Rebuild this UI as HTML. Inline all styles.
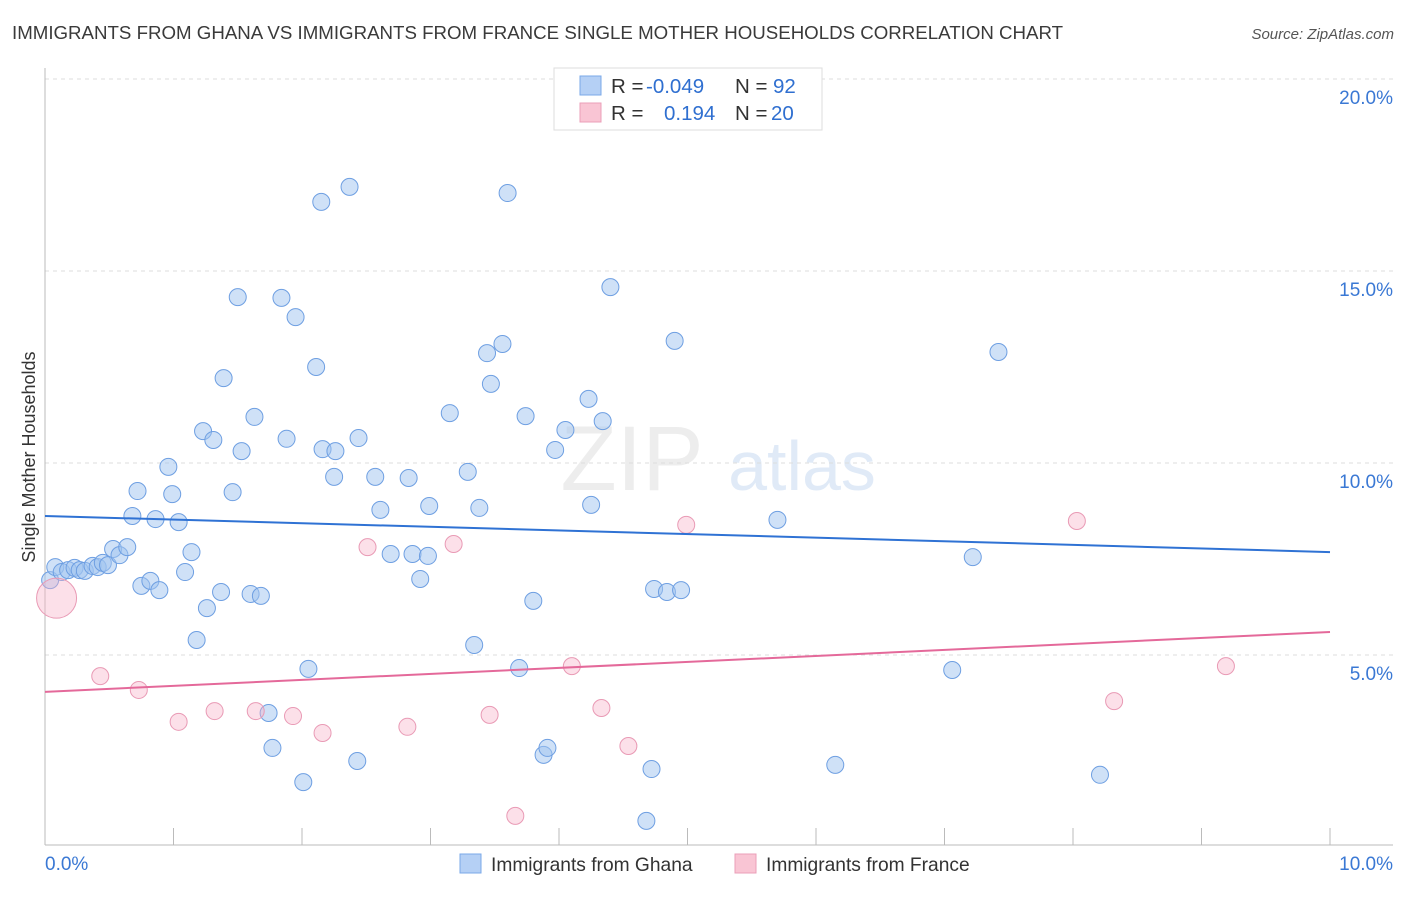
<!DOCTYPE html>
<html><head><meta charset="utf-8"><style>
body{margin:0;background:#fff;font-family:"Liberation Sans",sans-serif;}
svg text{font-family:"Liberation Sans",sans-serif;}
</style></head><body>
<svg id="chart" width="1406" height="892" xmlns="http://www.w3.org/2000/svg">
<text x="12" y="39" font-size="18.7" fill="#3a3a3a">IMMIGRANTS FROM GHANA VS IMMIGRANTS FROM FRANCE SINGLE MOTHER HOUSEHOLDS CORRELATION CHART</text>
<text x="1394" y="39" font-size="15" fill="#555" font-style="italic" text-anchor="end">Source: ZipAtlas.com</text>
<g opacity="0.35">
<text x="632" y="490" font-size="92" fill="#ccc" text-anchor="middle" font-family="Liberation Serif">ZIP</text>
<text x="802" y="490" font-size="70" fill="#a9c6ea" text-anchor="middle">atlas</text>
</g>
<g id="grid"></g>
<g id="axes"></g>
<g id="marks"></g>
<text transform="translate(35,457) rotate(-90)" font-size="18" fill="#333" text-anchor="middle">Single Mother Households</text>
<g>
<rect x="554" y="68" width="268" height="62" fill="#fff" stroke="#ddd"/>
<rect x="580" y="76" width="21" height="19" fill="#b5d0f5" stroke="#7aa8e8"/>
<rect x="580" y="103" width="21" height="19" fill="#f9c5d4" stroke="#eb9fb8"/>
<text x="611" y="93" font-size="20.5" fill="#333">R = <tspan x="646" fill="#2f6fd0">-0.049</tspan></text>
<text x="735" y="93" font-size="20.5" fill="#333">N = <tspan x="773" fill="#2f6fd0">92</tspan></text>
<text x="611" y="120" font-size="20.5" fill="#333">R = <tspan x="664" fill="#2f6fd0">0.194</tspan></text>
<text x="735" y="120" font-size="20.5" fill="#333">N = <tspan x="771" fill="#2f6fd0">20</tspan></text>
</g>
<g>
<rect x="460" y="854" width="21" height="19" fill="#b5d0f5" stroke="#7aa8e8"/>
<text x="491" y="871" font-size="19.2" fill="#333">Immigrants from Ghana</text>
<rect x="735" y="854" width="21" height="19" fill="#f9c5d4" stroke="#eb9fb8"/>
<text x="766" y="871" font-size="19.2" fill="#333">Immigrants from France</text>
</g>
</svg>
<script>
const yTicks=[5,10,15,20];
const yTickLabels=["5.0%","10.0%","15.0%","20.0%"];
const xTickValues=[0,1,2,3,4,5,6,7,8,9,10];
const xEndLabels=["0.0%","10.0%"];
const ghanaX=[0.04,0.08,0.13,0.18,0.23,0.27,0.31,0.37,0.41,0.45,0.49,0.53,0.58,0.64,0.72,0.68,0.75,0.82,0.89,0.86,0.96,0.99,1.04,1.09,1.14,1.18,1.23,1.26,1.31,1.37,1.39,1.46,1.50,1.53,1.60,1.63,1.68,1.74,1.77,1.84,1.88,1.95,2.01,2.05,2.11,2.15,2.16,2.25,2.26,2.37,2.43,2.44,2.57,2.61,2.69,2.83,2.86,2.92,2.98,2.99,3.15,3.29,3.34,3.38,3.44,3.47,3.56,3.60,3.69,3.74,3.80,3.88,3.91,3.97,4.05,4.23,4.25,4.34,4.40,4.68,4.72,4.74,4.84,4.90,4.95,5.70,6.15,7.06,7.22,7.42,8.21];
const ghanaY=[6.95,7.29,7.16,7.21,7.27,7.21,7.19,7.32,7.29,7.40,7.34,7.76,7.60,7.81,9.27,8.62,6.80,6.93,6.69,8.54,9.90,9.19,8.46,7.16,7.68,5.39,10.83,6.22,10.60,6.64,12.21,9.24,14.32,10.31,6.59,11.20,6.54,3.49,2.58,14.30,10.63,13.80,1.69,4.64,12.50,16.80,10.36,9.64,10.31,17.19,2.24,10.65,9.64,8.78,7.63,9.61,7.63,6.98,7.58,8.88,11.30,9.77,5.26,8.83,12.86,12.06,13.10,17.03,4.66,11.22,6.41,2.40,2.58,10.34,10.86,11.67,8.91,11.09,14.58,0.68,2.03,6.72,6.64,13.18,6.69,8.52,2.14,4.61,7.55,12.89,1.88];
const franceX=[0.09,0.43,0.73,1.04,1.32,1.64,1.93,2.16,2.51,2.82,3.18,3.46,3.66,4.10,4.33,4.54,4.99,8.03,8.32,9.19];
const franceY=[6.48,4.45,4.09,3.26,3.54,3.54,3.41,2.97,7.81,3.13,7.89,3.44,0.81,4.71,3.62,2.63,8.39,8.49,3.80,4.71];
const franceSize=[20,8.5,8.5,8.5,8.5,8.5,8.5,8.5,8.5,8.5,8.5,8.5,8.5,8.5,8.5,8.5,8.5,8.5,8.5,8.5];
const ghanaTrend=[8.62,7.68];
const franceTrend=[4.04,5.60];

const NS="http://www.w3.org/2000/svg";
const X0=45,X1=1330,Y0=847,PY=38.4;
const xs=v=>X0+(X1-X0)*v/10;
const ys=v=>Y0-v*PY;
function mk(tag,attrs,parent){const e=document.createElementNS(NS,tag);for(const k in attrs)e.setAttribute(k,attrs[k]);parent.appendChild(e);return e;}
const grid=document.getElementById('grid'),axes=document.getElementById('axes'),marks=document.getElementById('marks');
yTicks.forEach((t,i)=>{
 const l=mk('line',{x1:45,x2:1393,y1:ys(t),y2:ys(t),stroke:'#ddd','stroke-dasharray':'4,4'},grid);
 
 
 const tx=mk('text',{x:1393,y:ys(t)+25,'font-size':19,fill:'#3a78d4','text-anchor':'end'},axes);
 tx.textContent=yTickLabels[i];
 
 
});
const ya=mk('line',{x1:45,x2:45,y1:68,y2:845,stroke:'#bbb'},axes);


const xa=mk('line',{x1:45,x2:1393,y1:845,y2:845,stroke:'#bbb'},axes);


xTickValues.forEach(v=>{
 const t=mk('line',{x1:xs(v),x2:xs(v),y1:828,y2:845,stroke:'#bbb'},axes);
 
 
});
const xl0=mk('text',{x:45,y:870,'font-size':19,fill:'#3a78d4'},axes);
xl0.textContent=xEndLabels[0];


const xl1=mk('text',{x:1393,y:870,'font-size':19,fill:'#3a78d4','text-anchor':'end'},axes);
xl1.textContent=xEndLabels[1];


ghanaX.forEach((v,i)=>{
 const c=mk('circle',{cx:xs(v),cy:ys(ghanaY[i]),r:8.5,fill:'rgba(160,196,240,0.5)',stroke:'#6e9fe2','stroke-width':1},marks);
 
 
});
franceX.forEach((v,i)=>{
 const c=mk('circle',{cx:xs(v),cy:ys(franceY[i]),r:franceSize[i],fill:'rgba(247,178,200,0.4)',stroke:'#e99ab5','stroke-width':1},marks);
 
 
});
const gl=mk('line',{x1:xs(0),x2:xs(10),y1:ys(ghanaTrend[0]),y2:ys(ghanaTrend[1]),stroke:'#2f72d4','stroke-width':2},marks);


const fl=mk('line',{x1:xs(0),x2:xs(10),y1:ys(franceTrend[0]),y2:ys(franceTrend[1]),stroke:'#e4699a','stroke-width':2},marks);


</script>
</body></html>
